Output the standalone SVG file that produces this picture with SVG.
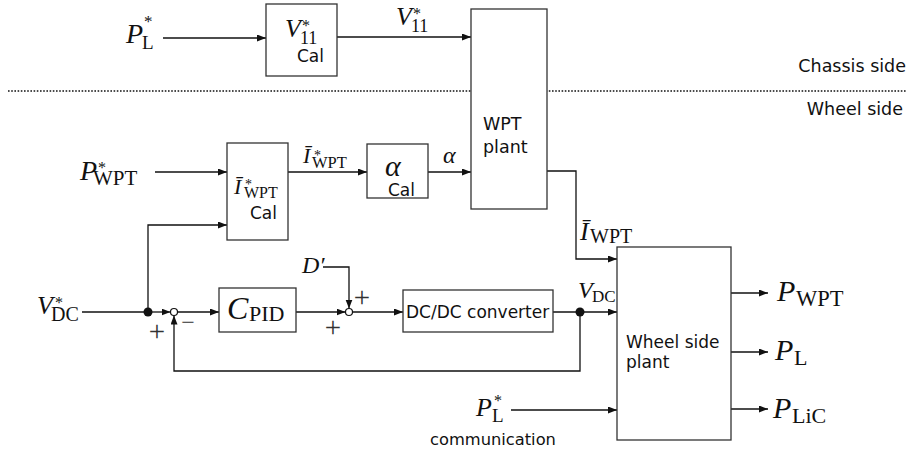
<svg xmlns="http://www.w3.org/2000/svg" width="914" height="450" viewBox="0 0 914 450">
<style>
.bx{fill:#fff;stroke:#333;stroke-width:1.3}
.ln{fill:none;stroke:#111;stroke-width:1.3}
.ar{marker-end:url(#ah)}
.sf{font-family:"DejaVu Sans","Liberation Sans",sans-serif;fill:#111}
.m{font-family:"Liberation Serif","Times New Roman",serif;font-style:italic;fill:#111}
.r{font-family:"Liberation Serif","Times New Roman",serif;font-style:normal;fill:#111}
.pm{font-family:"Liberation Serif","Times New Roman",serif;fill:#333;text-anchor:middle}
</style>
<defs>
<marker id="ah" markerWidth="10" markerHeight="8" refX="9" refY="3.5" orient="auto" markerUnits="userSpaceOnUse">
<path d="M0,0 L9,3.5 L0,7 z" fill="#111"/>
</marker>
</defs>
<rect width="914" height="450" fill="#fff"/>

<line x1="8" y1="91" x2="906" y2="91" stroke="#111" stroke-width="1.6" stroke-dasharray="1.6 1.6"/>
<text class="sf" x="906" y="72" font-size="17.5" text-anchor="end">Chassis side</text>
<text class="sf" x="903" y="115" font-size="17.5" text-anchor="end">Wheel side</text>

<g id="connectors">
<path class="ln ar" d="M163,38 H266"/>
<path class="ln ar" d="M337,37 H471"/>
<path class="ln ar" d="M155,172 H227"/>
<path class="ln ar" d="M288,172 H367"/>
<path class="ln ar" d="M428,172 H471"/>
<path class="ln ar" d="M148,312 V225 H227"/>
<path class="ln" d="M82,312 H148"/>
<path class="ln ar" d="M148,312 H170.5"/>
<path class="ln ar" d="M177.5,312 H219"/>
<path class="ln ar" d="M296,312 H345.5"/>
<path class="ln ar" d="M323,267 H349 V308.5"/>
<path class="ln ar" d="M352.5,312 H403"/>
<path class="ln ar" d="M553,312 H617"/>
<path class="ln ar" d="M580,312 V371 H174 V315.5"/>
<path class="ln ar" d="M547,171 H576 V259 H617"/>
<path class="ln ar" d="M511,410 H617"/>
<path class="ln ar" d="M731,293 H768"/>
<path class="ln ar" d="M731,352 H768"/>
<path class="ln ar" d="M731,409 H768"/>
<circle cx="148" cy="312" r="4.5" fill="#111"/>
<circle cx="580" cy="312" r="4.5" fill="#111"/>
</g>

<g id="sum1">
<circle cx="174" cy="312" r="3.5" fill="#fff" stroke="#111" stroke-width="1.2"/>
<text class="pm" x="157" y="341" font-size="29">+</text>
<text class="pm" x="188" y="330" font-size="24">−</text>
</g>
<g id="sum2">
<circle cx="349" cy="312" r="3.5" fill="#fff" stroke="#111" stroke-width="1.2"/>
<text class="pm" x="362" y="307" font-size="29">+</text>
<text class="pm" x="333" y="337" font-size="29">+</text>
</g>

<g id="labels">
<text class="m" x="126" y="43" font-size="28">P</text>
<text class="r" x="144" y="27" font-size="17">*</text>
<text class="r" x="142" y="49" font-size="19">L</text>

<text class="m" x="396" y="25" font-size="26">V</text>
<text class="r" x="413" y="19" font-size="16">*</text>
<text class="r" x="411" y="32" font-size="18">11</text>

<text class="m" x="80" y="180" font-size="28">P</text>
<text class="r" x="98" y="173" font-size="16">*</text>
<text class="r" x="93" y="185" font-size="21">WPT</text>

<text class="m" x="303" y="163" font-size="22">Ī</text>
<text class="r" x="314" y="160" font-size="14">*</text>
<text class="r" x="312" y="168" font-size="16.5">WPT</text>

<text class="m" x="443" y="163" font-size="24">α</text>

<text class="m" x="37" y="314" font-size="26">V</text>
<text class="r" x="55" y="308" font-size="16">*</text>
<text class="r" x="51" y="321" font-size="20">DC</text>

<text class="m" x="302" y="273" font-size="24">D′</text>

<text class="m" x="578" y="298" font-size="24">V</text>
<text class="r" x="592" y="302" font-size="17">DC</text>

<text class="m" x="580" y="240" font-size="26">Ī</text>
<text class="r" x="590" y="243" font-size="20">WPT</text>

<text class="m" x="777" y="301" font-size="30">P</text>
<text class="r" x="796" y="306" font-size="22.5">WPT</text>
<text class="m" x="775" y="360" font-size="30">P</text>
<text class="r" x="794" y="365" font-size="22">L</text>
<text class="m" x="773" y="418" font-size="30">P</text>
<text class="r" x="792" y="423" font-size="22">LiC</text>

<text class="m" x="476" y="416" font-size="26">P</text>
<text class="r" x="494" y="406" font-size="16">*</text>
<text class="r" x="492" y="422" font-size="19">L</text>
<text class="sf" x="430" y="445" font-size="16.3">communication</text>
</g>

<g id="v11cal">
<rect class="bx" x="266" y="4" width="71" height="72"/>
<text class="m" x="285" y="37" font-size="26">V</text>
<text class="r" x="302" y="31" font-size="16">*</text>
<text class="r" x="300" y="44" font-size="18">11</text>
<text class="sf" x="297" y="62" font-size="17">Cal</text>
</g>

<g id="wptplant">
<rect class="bx" x="471" y="9" width="76" height="200"/>
<text class="sf" x="483" y="130" font-size="17.5">WPT</text>
<text class="sf" x="483" y="153" font-size="17.5">plant</text>
</g>

<g id="icalc">
<rect class="bx" x="227" y="143" width="61" height="97"/>
<text class="m" x="234" y="194" font-size="22">Ī</text>
<text class="r" x="245" y="189" font-size="14">*</text>
<text class="r" x="244" y="198" font-size="16">WPT</text>
<text class="sf" x="250" y="219" font-size="17">Cal</text>
</g>

<g id="alphacal">
<rect class="bx" x="367" y="144" width="61" height="54"/>
<text class="m" x="385" y="176" font-size="30">α</text>
<text class="sf" x="388" y="196" font-size="17">Cal</text>
</g>

<g id="cpid">
<rect class="bx" x="219" y="288" width="77" height="44"/>
<text class="m" x="227" y="319" font-size="32">C</text>
<text class="r" x="249" y="321" font-size="22">PID</text>
</g>

<g id="dcdc">
<rect class="bx" x="403" y="290" width="150" height="42"/>
<text class="sf" x="406" y="318" font-size="17">DC/DC converter</text>
</g>

<g id="wheelplant">
<rect class="bx" x="617" y="247" width="114" height="193"/>
<text class="sf" x="626" y="348" font-size="17">Wheel side</text>
<text class="sf" x="626" y="368" font-size="17">plant</text>
</g>
</svg>
